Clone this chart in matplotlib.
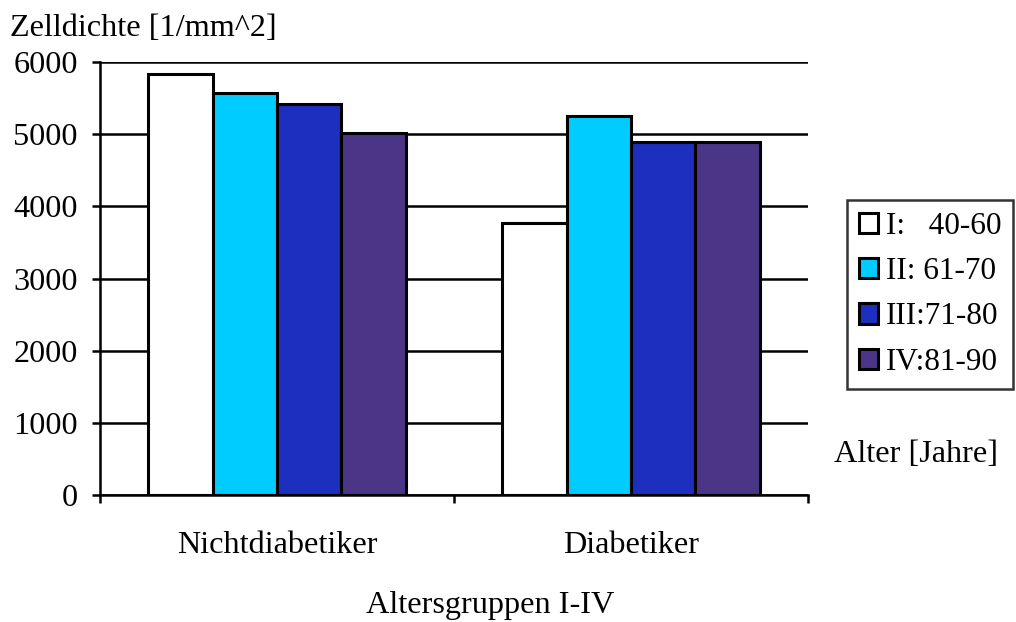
import numpy as np
import matplotlib
matplotlib.use('Agg')
import matplotlib.pyplot as plt

plt.rcParams['font.family'] = ['Liberation Serif', 'DejaVu Serif']

gruppen = ['Nichtdiabetiker', 'Diabetiker']
serien = ['I:   40-60', 'II: 61-70', 'III:71-80', 'IV:81-90']
farben = ['#FFFFFF', '#00CCFF', '#1C2FBE', '#4B3586']
werte = [[5830, 3765],
         [5575, 5250],
         [5420, 4895],
         [5010, 4895]]

fs = 23.2
fig = plt.figure(figsize=(10.16, 6.22), dpi=100)
ax = fig.add_axes([100/1016, 1-495/622, 708/1016, 433/622])

x = np.arange(len(gruppen))
bw = 0.182
for i in range(len(serien)):
    ax.bar(x + (i - 1.5)*bw, werte[i], width=bw, color=farben[i],
           edgecolor='black', linewidth=2.2, label=serien[i], zorder=3)

ax.set_xlim(-0.5, 1.5)
ax.set_ylim(0, 6000)
ax.set_yticks(range(0, 6001, 1000))
ax.yaxis.grid(True, color='black', linewidth=1.8, zorder=0)
ax.set_xticks([-0.5, 0.5, 1.5])
ax.set_xticklabels([])
ax.set_xticks(x, minor=True)
ax.set_xticklabels(gruppen, minor=True)
ax.tick_params(axis='x', which='minor', length=0, pad=26, labelsize=fs)
ax.tick_params(axis='x', which='major', length=6, width=1.8, direction='out')
ax.tick_params(axis='y', length=6, width=1.8, direction='out', labelsize=fs, pad=10)
for s in ['top', 'right']:
    ax.spines[s].set_visible(False)
for s in ['left', 'bottom']:
    ax.spines[s].set_linewidth(1.8)

fig.text(10/1016, 1-28/622, 'Zelldichte [1/mm^2]', fontsize=fs, va='center', ha='left')
fig.text(490/1016, 1-605/622, 'Altersgruppen I-IV', fontsize=fs, va='center', ha='center')
fig.text(916/1016, 1-455/622, 'Alter [Jahre]', fontsize=fs, va='center', ha='center')

leg = ax.legend(loc='upper left', bbox_to_anchor=(847/1016, 1-200/622),
                bbox_transform=fig.transFigure, fontsize=22.5, frameon=True,
                fancybox=False, edgecolor='black', handlelength=0.62,
                handleheight=0.62, handletextpad=0.25, borderpad=0.38,
                labelspacing=0.52, borderaxespad=0)
leg.get_frame().set_linewidth(1.8)

fig.savefig('out.png', dpi=100)
